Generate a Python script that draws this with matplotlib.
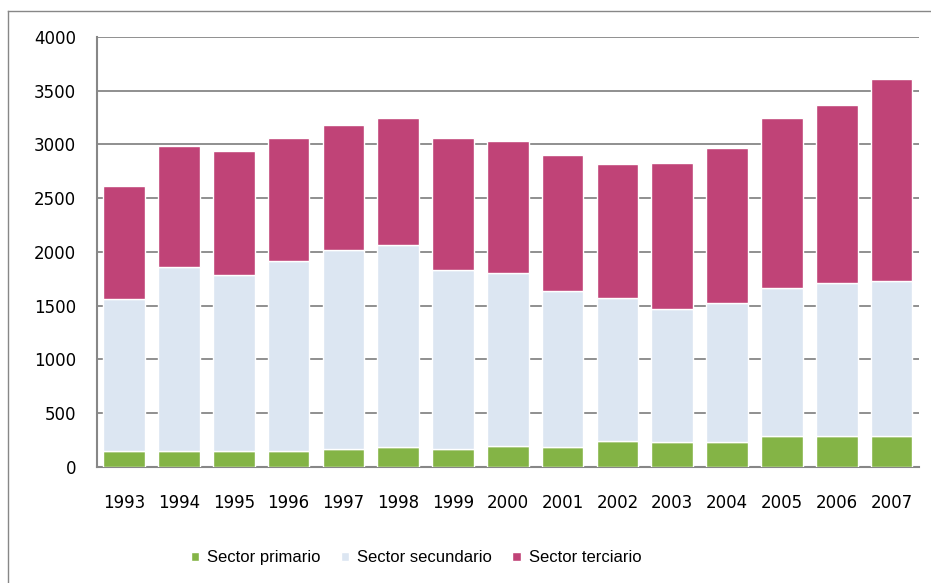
import matplotlib.pyplot as plt
import numpy as np
from matplotlib.lines import Line2D

years = ["1993", "1994", "1995", "1996", "1997", "1998", "1999", "2000",
         "2001", "2002", "2003", "2004", "2005", "2006", "2007"]
primario = [150, 150, 150, 150, 165, 180, 165, 195, 180, 238, 227, 227, 288, 288, 288]
# top of secondary segment (cumulative)
secundario_top = [1558, 1858, 1785, 1910, 2013, 2063, 1830, 1800, 1635, 1570, 1465, 1525, 1662, 1708, 1725]
total = [2615, 2980, 2938, 3060, 3183, 3243, 3060, 3028, 2905, 2815, 2830, 2965, 3243, 3363, 3608]

secundario = np.array(secundario_top) - np.array(primario)
terciario = np.array(total) - np.array(secundario_top)

plt.rcParams['font.family'] = ['DejaVu Sans']

fig = plt.figure(figsize=(9.31, 5.83), dpi=100)
ax = fig.add_axes([0.104, 0.1995, 0.883, 0.7372])

x = np.arange(len(years))
w = 0.76
c_pri, c_sec, c_ter = "#84B446", "#DCE6F2", "#C04377"
ax.bar(x, primario, w, color=c_pri, edgecolor="white", linewidth=1, label="Sector primario", zorder=3)
ax.bar(x, secundario, w, bottom=primario, color=c_sec, edgecolor="white", linewidth=1,
       label="Sector secundario", zorder=3)
ax.bar(x, terciario, w, bottom=secundario_top, color=c_ter, edgecolor="white", linewidth=1,
       label="Sector terciario", zorder=3)

ax.set_xlim(-0.5, len(years) - 0.5)
ax.set_ylim(0, 4000)
ax.set_yticks(range(0, 4001, 500))
ax.set_xticks(x)
ax.set_xticklabels(years)
ax.tick_params(axis="both", length=0, labelsize=12, colors="black")
ax.tick_params(axis="y", pad=15)
ax.tick_params(axis="x", pad=20)

ax.yaxis.grid(True, color="#878787", linewidth=1.3, zorder=0)
ax.set_axisbelow(True)
for s in ["top", "right"]:
    ax.spines[s].set_visible(False)
for s in ["left", "bottom"]:
    ax.spines[s].set_color("#878787")
    ax.spines[s].set_linewidth(1.5)

handles, labels = ax.get_legend_handles_labels()
fig.legend(handles, labels, loc="center", bbox_to_anchor=(0.447, 0.043), ncol=3, frameon=False,
           prop={"family": "Liberation Sans", "size": 12}, handlelength=0.5, handleheight=0.5,
           handletextpad=0.5, columnspacing=1.2)

# outer frame: top and left edges only
fig.add_artist(Line2D([8 / 931, 1], [1 - 11 / 583] * 2, transform=fig.transFigure,
                      color="#878787", linewidth=1))
fig.add_artist(Line2D([8 / 931] * 2, [0, 1 - 11 / 583], transform=fig.transFigure,
                      color="#878787", linewidth=1))

fig.savefig("out.png", dpi=100)
